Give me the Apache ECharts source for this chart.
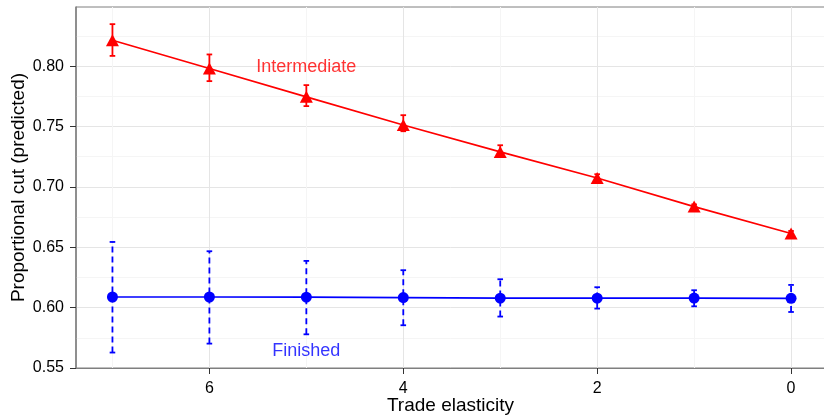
<!DOCTYPE html>
<html><head><meta charset="utf-8">
<script src="https://cdn.jsdelivr.net/npm/echarts@6/dist/echarts.min.js"></script>
<style>html,body{margin:0;padding:0;background:#fff}#chart{width:824px;height:416px}</style>
</head><body><div id="chart"></div>
<script>
const elasticity = [7, 6, 5, 4, 3, 2, 1, 0];
const intermediateMean = [0.8215, 0.7981, 0.7746, 0.7513, 0.7290, 0.7074, 0.6837, 0.6614];
const intermediateLow  = [0.8085, 0.7876, 0.7669, 0.7461, 0.7248, 0.7045, 0.6820, 0.6595];
const intermediateHigh = [0.8348, 0.8097, 0.7843, 0.7594, 0.7345, 0.7105, 0.6855, 0.6635];
const finishedMean = [0.6088, 0.6088, 0.6087, 0.6083, 0.6078, 0.6078, 0.6079, 0.6077];
const finishedLow  = [0.5628, 0.5702, 0.5779, 0.5854, 0.5926, 0.5992, 0.6011, 0.5964];
const finishedHigh = [0.6544, 0.6467, 0.6387, 0.6310, 0.6235, 0.6169, 0.6144, 0.6188];
const xTicks = [0, 2, 4, 6];
const xMinorTicks = [1, 3, 5, 7];
const yTicks = [0.55, 0.60, 0.65, 0.70, 0.75, 0.80];
const yMinorTicks = [0.575, 0.625, 0.675, 0.725, 0.775, 0.825];
const labelIntermediate = {name: 'Intermediate', x: 5, y: 0.7989};
const labelFinished = {name: 'Finished', x: 5, y: 0.5642};

const FONT = 'Liberation Sans, Arial, Helvetica, sans-serif';
const RED = '#FF0000', BLUE = '#0000FF';
const X_MIN = -0.35, X_MAX = 7.376, Y_MIN = 0.55, Y_MAX = 0.849;

function zip3(a, b, c) { return a.map((v, i) => [v, b[i], c[i]]); }
function zip2(a, b) { return a.map((v, i) => [v, b[i]]); }

function errorBars(color, dashed) {
  return function (params, api) {
    const x = api.value(0);
    const lo = api.coord([x, api.value(1)]);
    const hi = api.coord([x, api.value(2)]);
    const cap = 2.8;
    const st = {stroke: color, lineWidth: 1.8};
    if (dashed) st.lineDash = [6, 4];
    const capSt = {stroke: color, lineWidth: 1.8};
    return {type: 'group', children: [
      {type: 'line', shape: {x1: lo[0], y1: lo[1], x2: hi[0], y2: hi[1]}, style: st},
      {type: 'line', shape: {x1: lo[0] - cap, y1: lo[1], x2: lo[0] + cap, y2: lo[1]}, style: capSt},
      {type: 'line', shape: {x1: hi[0] - cap, y1: hi[1], x2: hi[0] + cap, y2: hi[1]}, style: capSt}
    ]};
  };
}

const chart = echarts.init(document.getElementById('chart'), null, {renderer: 'canvas'});
chart.setOption({
  animation: false,
  backgroundColor: '#fff',
  grid: {left: 76, right: -1, top: 7, bottom: 48, containLabel: false, outerBoundsMode: 'none',
    show: true, borderColor: '#7F7F7F', borderWidth: 1, backgroundColor: 'transparent'},
  xAxis: [{
    type: 'value', inverse: true, min: X_MIN, max: X_MAX,
    name: 'Trade elasticity', nameLocation: 'middle', nameGap: 28, nameMoveOverlap: false,
    nameTextStyle: {fontFamily: FONT, fontSize: 19, color: '#000'},
    axisLine: {show: true, onZero: false, lineStyle: {color: '#7F7F7F', width: 1.2}},
    axisTick: {show: true, length: 6, customValues: xTicks, lineStyle: {color: '#333', width: 1}},
    axisLabel: {customValues: xTicks, margin: 13, fontFamily: FONT, fontSize: 16, color: '#000'},
    splitLine: {show: true, lineStyle: {color: '#E5E5E5', width: 1}}
  }, {
    type: 'value', inverse: true, min: X_MIN, max: X_MAX, position: 'top',
    axisLine: {show: false, onZero: false}, axisLabel: {show: false},
    axisTick: {show: false, customValues: xMinorTicks},
    splitLine: {show: true, lineStyle: {color: '#F5F5F5', width: 1}}
  }],
  yAxis: [{
    type: 'value', min: Y_MIN, max: Y_MAX, position: 'left',
    name: 'Proportional cut (predicted)', nameLocation: 'middle', nameGap: 48, nameRotate: 90, nameMoveOverlap: false,
    nameTextStyle: {fontFamily: FONT, fontSize: 19, color: '#000'},
    axisLine: {show: true, onZero: false, lineStyle: {color: '#7F7F7F', width: 1.5}},
    axisTick: {show: true, length: 6, customValues: yTicks, lineStyle: {color: '#333', width: 1}},
    axisLabel: {customValues: yTicks, margin: 12, fontFamily: FONT, fontSize: 16, color: '#000',
      formatter: v => v.toFixed(2)},
    splitLine: {show: true, lineStyle: {color: '#E5E5E5', width: 1}}
  }, {
    type: 'value', min: Y_MIN, max: Y_MAX, position: 'right',
    axisLine: {show: false, onZero: false}, axisLabel: {show: false},
    axisTick: {show: false, customValues: yMinorTicks},
    splitLine: {show: true, lineStyle: {color: '#F5F5F5', width: 1}}
  }],
  series: [
    {type: 'custom', name: 'FinishedErr', renderItem: errorBars(BLUE, true),
     encode: {x: 0, y: [1, 2]}, data: zip3(elasticity, finishedLow, finishedHigh), z: 2},
    {type: 'custom', name: 'IntermediateErr', renderItem: errorBars(RED, false),
     encode: {x: 0, y: [1, 2]}, data: zip3(elasticity, intermediateLow, intermediateHigh), z: 2},
    {type: 'line', name: 'Finished', data: zip2(elasticity, finishedMean),
     symbol: 'circle', symbolSize: 11, showSymbol: true,
     itemStyle: {color: BLUE}, lineStyle: {color: BLUE, width: 1.7}, z: 3},
    {type: 'line', name: 'Intermediate', data: zip2(elasticity, intermediateMean),
     symbol: 'triangle', symbolSize: [13, 12], showSymbol: true,
     itemStyle: {color: RED}, lineStyle: {color: RED, width: 1.7}, z: 3},
    {type: 'scatter', name: 'labels', symbolSize: 0, silent: true, z: 4,
     data: [
       {name: labelIntermediate.name, value: [labelIntermediate.x, labelIntermediate.y], label: {color: RED}},
       {name: labelFinished.name, value: [labelFinished.x, labelFinished.y], label: {color: BLUE}}
     ],
     label: {show: true, position: 'inside', formatter: p => p.name, fontFamily: FONT, fontSize: 18, align: 'center', verticalAlign: 'middle'}}
  ]
});
</script>
</body></html>
